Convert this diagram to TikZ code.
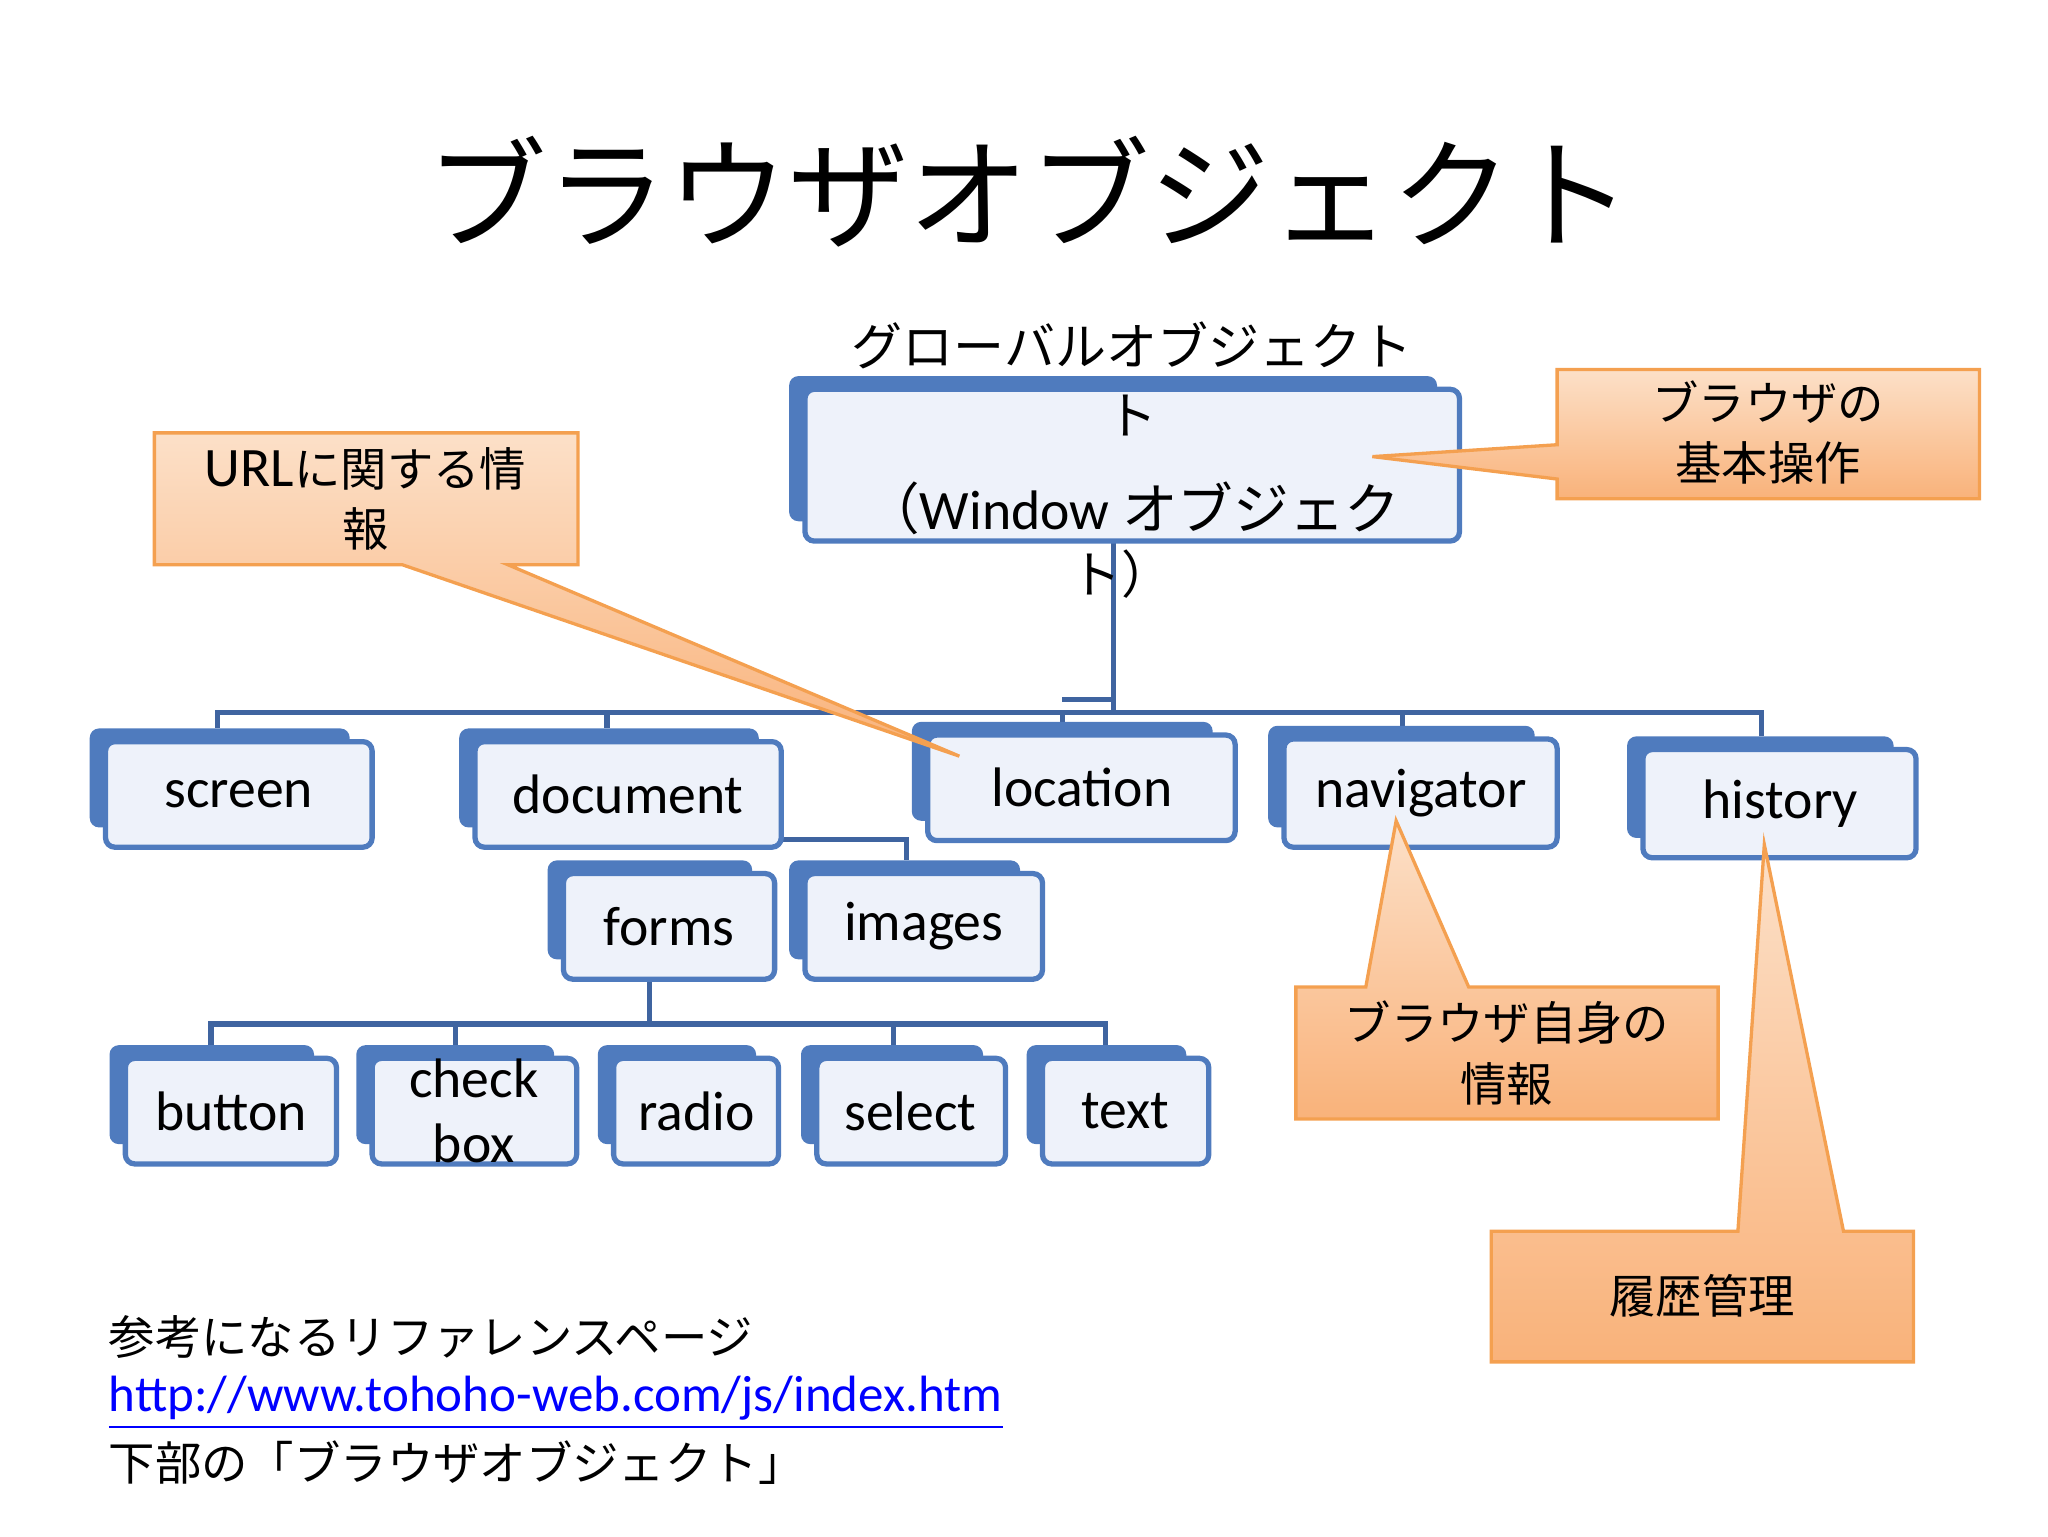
\documentclass[tikz,border=0pt]{standalone}
\usepackage{fontspec}
\setmainfont{Carlito}
\newfontfamily\jp{Noto Sans CJK JP}
\definecolor{bdark}{HTML}{4F7BBE}
\definecolor{bfill}{HTML}{EEF2FA}
\definecolor{oline}{HTML}{F4A050}
\definecolor{otop}{HTML}{FCE0C8}
\definecolor{obot}{HTML}{F9B27A}
\definecolor{tline}{HTML}{3F64A0}
\tikzset{
 back/.style={fill=bdark,draw=none,rounded corners=2pt},
 front/.style={fill=bfill,draw=bdark,line width=0.4mm,rounded corners=2pt},
 lbl/.style={font=\fontsize{12}{13}\selectfont},
 callout/.style={draw=oline,line width=0.25mm,top color=otop,bottom color=obot},
 ctext/.style={font=\jp\fontsize{10}{13}\selectfont,align=center},
 tree/.style={draw=tline,line width=0.4mm}
}
\newcommand{\obox}[5]{% name, x1,y1,x2,y2 (front)
 \fill[back] (#2-12,#3-10) rectangle (#4-17,#5-15);
 \draw[front] (#2,#3) rectangle (#4,#5);
}
\begin{document}
\begin{tikzpicture}[x=0.1mm,y=-0.1mm]
\useasboundingbox (0,0) rectangle (1552,1164);
\node (title) at (780,145) {\jp\fontsize{26}{28}\selectfont ブラウザオブジェクト};
% tree lines
\draw[tree] (844,405) -- (844,540);
\draw[tree] (165,552) -- (165,540) -- (1335,540) -- (1335,558);
\foreach \x in {460,805,1063} \draw[tree] (\x,540) -- (\x,552);
\draw[tree] (805,530) -- (844,530);
\draw[tree] (592,636) -- (687,636) -- (687,652);
\draw[tree] (492,742) -- (492,776);
\draw[tree] (160,792) -- (160,776) -- (838,776) -- (838,792);
\foreach \x in {345,677} \draw[tree] (\x,776) -- (\x,792);
% boxes
\obox{win}{610}{295}{1106}{410}
\obox{scr}{80}{562}{282}{642}
\obox{doc}{360}{562}{592}{642}
\obox{loc}{703}{557}{936}{637}
\obox{nav}{973}{560}{1180}{642}
\obox{his}{1245}{568}{1452}{650}
\obox{frm}{427}{662}{587}{742}
\obox{img}{610}{662}{790}{742}
\obox{btn}{95}{802}{255}{882}
\obox{chk}{282}{802}{437}{882}
\obox{rad}{465}{802}{590}{882}
\obox{sel}{619}{802}{762}{882}
\obox{txt}{790}{802}{916}{882}
\node[lbl] (tscr) at (181,602) {screen};
\node[lbl] (tdoc) at (476,602) {document};
\node[lbl] (tloc) at (820,597) {location};
\node[lbl] (tnav) at (1077,601) {navigator};
\node[lbl] (this) at (1349,609) {history};
\node[lbl] (tfrm) at (507,702) {forms};
\node[lbl] (timg) at (700,702) {images};
\node[lbl] (tbtn) at (175,842) {button};
\node[lbl,align=center,font=\fontsize{12}{14}\selectfont] (tchk) at (359,842) {check\\box};
\node[lbl] (trad) at (528,842) {radio};
\node[lbl] (tsel) at (690,842) {select};
\node[lbl] (ttxt) at (853,842) {text};
% window text
\node[font=\jp\fontsize{11}{12}\selectfont] (w1) at (858,262) {グローバルオブジェクト};
\node[font=\jp\fontsize{11}{12}\selectfont] (w2) at (858,315) {ト};
\node[font=\fontsize{12}{13}\selectfont] (w3) at (858,385) {{\jp（}Window {\jp オブジェク}};
\node[font=\jp\fontsize{11}{12}\selectfont] (w4) at (850,435) {ト）};
% callouts
\draw[callout] (117,328) -- (438,328) -- (438,428) -- (385,428) -- (727,573) -- (305,428) -- (117,428) -- cycle;
\node[ctext] (c1) at (277,378) {{\fontspec{Carlito}\fontsize{12}{13}\selectfont URL}に関する情\\報};
\draw[callout] (1180,280) -- (1500,280) -- (1500,378) -- (1180,378) -- (1180,363) -- (1040,346) -- (1180,337) -- cycle;
\node[ctext] (c2) at (1340,328) {ブラウザの\\基本操作};
\draw[callout] (982,748) -- (1035,748) -- (1058,622) -- (1113,748) -- (1302,748) -- (1302,848) -- (982,848) -- cycle;
\node[ctext] (c3) at (1142,798) {ブラウザ自身の\\情報};
\draw[callout] (1130,933) -- (1317,933) -- (1337,640) -- (1397,933) -- (1450,933) -- (1450,1032) -- (1130,1032) -- cycle;
\node[ctext] (c4) at (1290,982) {履歴管理};
% bottom text
\node[anchor=west,font=\jp\fontsize{10}{12}\selectfont] (r1) at (70,1013) {参考になるリファレンスページ};
\node[anchor=west,font=\fontsize{11}{12}\selectfont,text=blue] (r2) at (70,1063) {\underline{http://www.tohoho-web.com/js/index.htm}};
\node[anchor=west,font=\jp\fontsize{10}{12}\selectfont] (r3) at (70,1108) {下部の「ブラウザオブジェクト」};
\end{tikzpicture}
\end{document}
